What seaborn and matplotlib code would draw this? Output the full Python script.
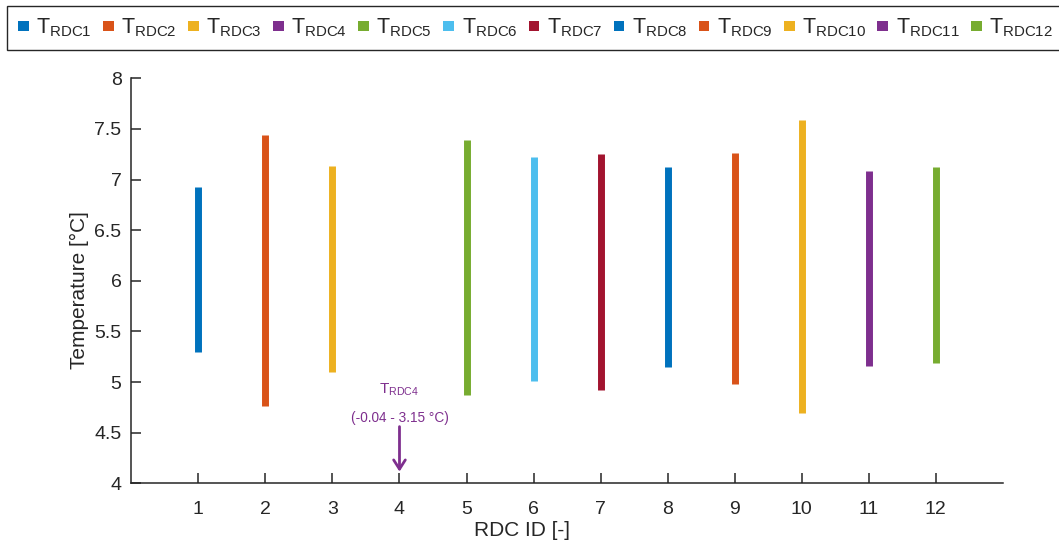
import matplotlib
matplotlib.use("Agg")
import matplotlib.pyplot as plt
from matplotlib.patches import Patch
import seaborn as sns
import pandas as pd

# RDC temperature ranges
rdc_ids = [1, 2, 3, 4, 5, 6, 7, 8, 9, 10, 11, 12]
t_min = [5.30, 4.76, 5.10, None, 4.87, 5.01, 4.92, 5.15, 4.98, 4.69, 5.16, 5.19]
t_max = [6.93, 7.44, 7.135, None, 7.39, 7.22, 7.25, 7.12, 7.26, 7.59, 7.08, 7.12]
rdc4_range = (-0.04, 3.15)

colors = ['#0072BD', '#D95319', '#EDB120', '#7E2F8E', '#77AC30', '#4DBEEE',
          '#A2142F', '#0072BD', '#D95319', '#EDB120', '#7E2F8E', '#77AC30']
labels = [r'T$_{\mathregular{RDC%d}}$' % i for i in rdc_ids]
dark = '#262626'


def main():
    sns.set_theme(style='ticks')
    plt.rcParams['font.family'] = ['Liberation Sans', 'DejaVu Sans']

    # long form table: two rows (min/max) per sensor, RDC4 is off scale
    rows = []
    for i, lo, hi in zip(rdc_ids, t_min, t_max):
        if lo is None:
            continue
        rows.append({'rdc': i, 'temp': lo, 'sensor': labels[i - 1]})
        rows.append({'rdc': i, 'temp': hi, 'sensor': labels[i - 1]})
    data = pd.DataFrame(rows)
    shown = [labels[i - 1] for i in rdc_ids if t_min[i - 1] is not None]
    pal = {labels[i - 1]: colors[i - 1] for i in rdc_ids}

    fig = plt.figure(figsize=(10.59, 5.46), dpi=100)
    ax = fig.add_axes([0.124, 0.1148, 0.823, 0.7418])

    sns.lineplot(data=data, x='rdc', y='temp', hue='sensor', hue_order=shown,
                 palette=pal, estimator=None, lw=5, solid_capstyle='butt',
                 legend=False, ax=ax)

    ax.set_xlim(0, 13)
    ax.set_ylim(4, 8)
    ax.set_xticks(rdc_ids)
    ax.set_yticks([4, 4.5, 5, 5.5, 6, 6.5, 7, 7.5, 8])
    ax.set_yticklabels(['4', '4.5', '5', '5.5', '6', '6.5', '7', '7.5', '8'])
    sns.despine(ax=ax)
    for s in ['left', 'bottom']:
        ax.spines[s].set_color(dark)
        ax.spines[s].set_linewidth(1.1)
    ax.tick_params(axis='both', direction='in', length=7, width=1.1,
                   color=dark, labelcolor=dark, labelsize=14)
    ax.tick_params(axis='x', pad=13)
    ax.tick_params(axis='y', pad=7)

    ax.set_xlabel('RDC ID [-]', fontsize=15, color=dark)
    ax.set_ylabel('Temperature [°C]', fontsize=15, color=dark)
    ax.xaxis.set_label_coords(0.448, -0.093)
    ax.yaxis.set_label_coords(-0.049, 0.477)

    # RDC4 is out of range, mark it with an arrow
    purple = colors[3]
    ax.annotate('', xy=(4, 4.115), xytext=(4, 4.56),
                arrowprops=dict(arrowstyle='->,head_width=0.35,head_length=0.55',
                                color=purple, lw=2, shrinkA=0, shrinkB=0))
    ax.text(4, 4.887, labels[3], ha='center', va='baseline', color=purple,
            fontsize=11)
    ax.text(4, 4.645, '(%.2f - %.2f °C)' % rdc4_range, ha='center',
            va='center', color=purple, fontsize=9.8)

    handles = [Patch(facecolor=c, edgecolor='none') for c in colors]
    leg = fig.legend(handles, labels, loc='upper left', ncol=12, mode='expand',
                     bbox_to_anchor=(7 / 1059, 1 - 6 / 546, 0.998, 0),
                     fontsize=15.5, handlelength=0.5, handleheight=0.35,
                     handletextpad=0.35, columnspacing=0.3, borderpad=0.5,
                     borderaxespad=0, frameon=True, fancybox=False)
    frame = leg.get_frame()
    frame.set_edgecolor(dark)
    frame.set_linewidth(1)
    frame.set_alpha(1)

    fig.savefig('out.png', dpi=100)


if __name__ == "__main__":
    main()
